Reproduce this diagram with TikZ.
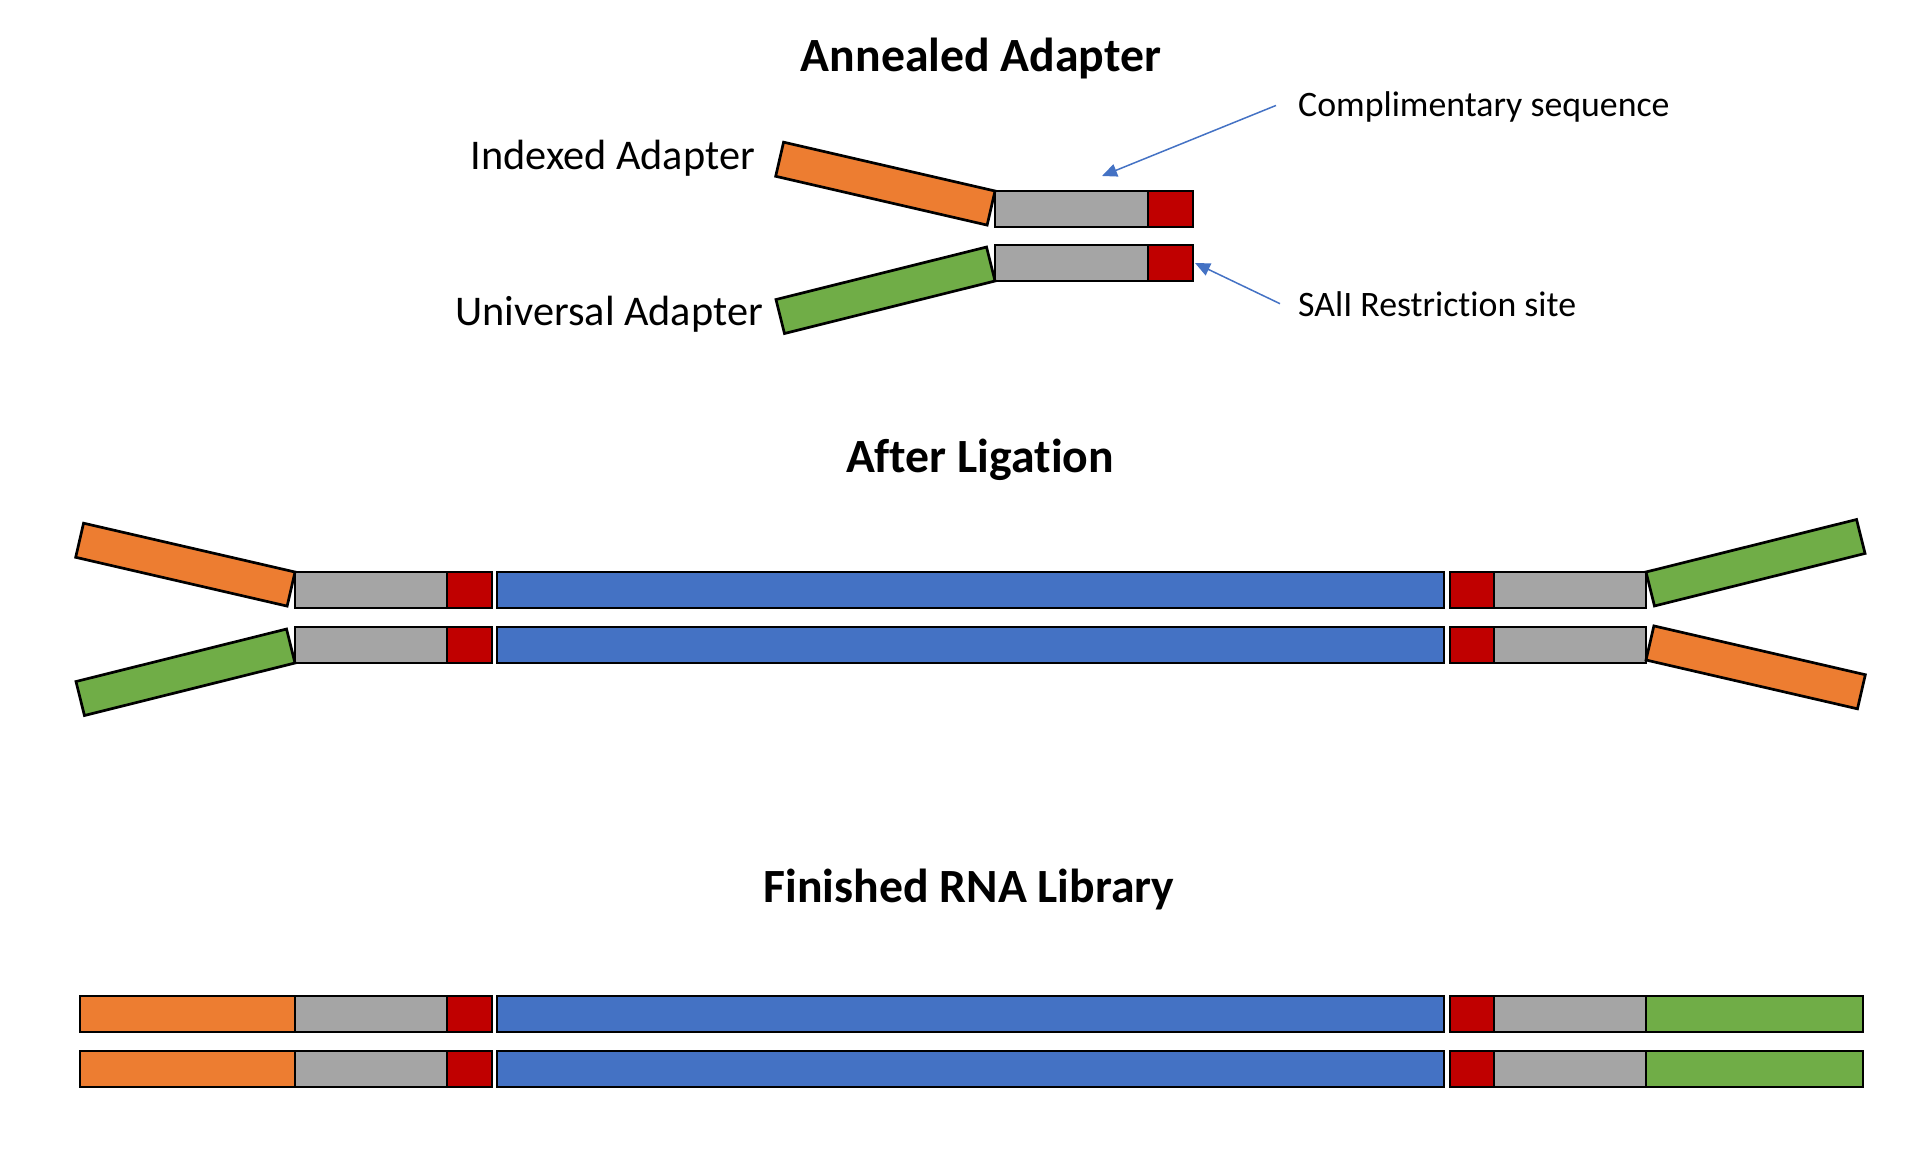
\documentclass[tikz,border=0pt]{standalone}
\usepackage{fontspec}
\setmainfont{Carlito}[Ligatures={NoCommon}]
\usetikzlibrary{arrows.meta}
\usetikzlibrary{positioning}
\definecolor{adorange}{HTML}{ED7D31}
\definecolor{adgreen}{HTML}{70AD47}
\definecolor{adgrey}{HTML}{A5A5A5}
\definecolor{adred}{HTML}{C00000}
\definecolor{adblue}{HTML}{4472C4}
\tikzset{
    seg/.style = {draw,line width=2.7pt,inner sep=0,outer sep=0,minimum height=36pt,anchor=north west},
    bar/.style = {seg,minimum width=217pt,minimum height=35pt},
    heading/.style = {font=\fontsize{47.7}{57}\selectfont\bfseries,anchor=base,inner sep=0},
    lbl/.style = {font=\fontsize{42.3}{50}\selectfont,inner sep=0},
    note/.style = {font=\fontsize{35.8}{43}\selectfont,inner sep=0,anchor=base west},
    pointer/.style = {adblue,line width=1.5pt,-{Triangle[length=15pt,width=13pt]}}
}

\begin{document}
\begin{tikzpicture}[x=1pt,y=-1pt]
        \useasboundingbox (0,0) rectangle (1918,1158);
        % Headings
        \node[heading] (hann) at (981,72) {Annealed Adapter};
        \node[heading] (hlig) at (980,472) {After Ligation};
        \node[heading] (hlib) at (969,902) {Finished RNA Library};
        % Annealed adapter
        \foreach \n/\y in {1/191,2/245} {
            \node[seg,fill=adgrey,minimum width=153pt] (ag\n) at (995,\y) {};
            \node[seg,fill=adred,minimum width=45pt] (ar\n) at (ag\n.north east) {};
        }
        \node[bar,fill=adorange,rotate=-13,anchor=north east] (aidx) at (ag1.north west) {};
        \node[bar,fill=adgreen,rotate=14,anchor=south east] (auni) at (ag2.south west) {};
        \node[lbl,anchor=base east] (lidx) at (755,170) {Indexed Adapter};
        \node[lbl,anchor=base east] (luni) at (763,325) {Universal Adapter};
        \node[note] (ncomp) at (1298,117) {Complimentary sequence};
        \node[note] (nsite) at (1298,316) {SAlI Restriction site};
        \coordinate (ctip) at (1102,176);
        \draw[pointer] ([xshift=-22pt,yshift=2pt]ncomp.west) -- (ctip);
        \draw[pointer] ([xshift=-18pt]nsite.west) -- ([xshift=2pt]ar2.east);
        % Insert with adapter stems
        \foreach \n/\y in {m1/572,m2/627,f1/996,f2/1051} {
            \node[seg,fill=adgrey,minimum width=152pt] (lg\n) at (295,\y) {};
            \node[seg,fill=adred,minimum width=45pt] (lr\n) at (lg\n.north east) {};
            \node[seg,fill=adblue,minimum width=947pt] (ins\n) at ([xshift=5pt]lr\n.north east) {};
            \node[seg,fill=adred,minimum width=44pt] (rr\n) at ([xshift=6pt]ins\n.north east) {};
            \node[seg,fill=adgrey,minimum width=152pt] (rg\n) at (rr\n.north east) {};
        }
        % Ligated adapter ends
        \node[bar,fill=adorange,rotate=-13,anchor=north east] (mlo) at (lgm1.north west) {};
        \node[bar,fill=adgreen,rotate=14,anchor=south east] (mlu) at (lgm2.south west) {};
        \node[bar,fill=adgreen,rotate=14,anchor=north west] (mru) at (rgm1.north east) {};
        \node[bar,fill=adorange,rotate=-13,anchor=south west] (mro) at ([yshift=3pt]rgm2.south east) {};
        % Finished library ends
        \foreach \n in {f1,f2} {
            \node[seg,fill=adorange,minimum width=215pt,anchor=north east] (fo\n) at (lg\n.north west) {};
            \node[seg,fill=adgreen,minimum width=217pt] (fu\n) at (rg\n.north east) {};
        }
\end{tikzpicture}
\end{document}
